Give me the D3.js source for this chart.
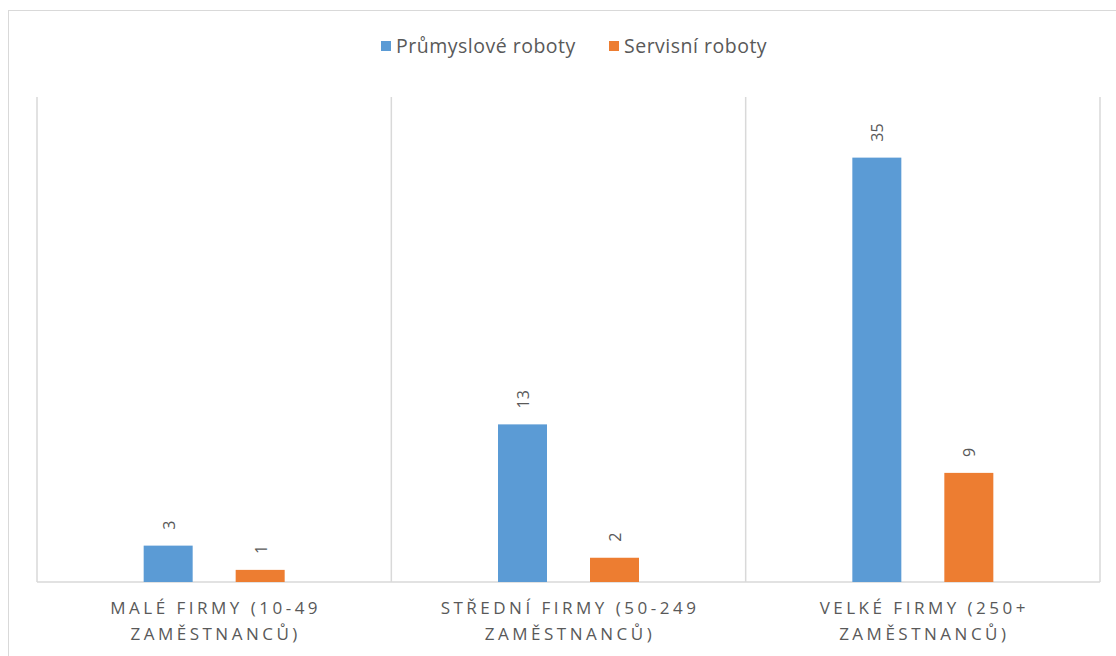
<!DOCTYPE html>
<html>
<head>
<meta charset="utf-8">
<script src="https://cdn.jsdelivr.net/npm/d3@7"></script>
<style>
  body { margin: 0; background: #fff; }
  text { font-family: "Open Sans", sans-serif; }
</style>
</head>
<body>
<svg id="chart"></svg>
<script>
// data
var categories = [["MALÉ FIRMY (10-49", "ZAMĚSTNANCŮ)"],
                  ["STŘEDNÍ FIRMY (50-249", "ZAMĚSTNANCŮ)"],
                  ["VELKÉ FIRMY (250+", "ZAMĚSTNANCŮ)"]];
var seriesNames = ["Průmyslové roboty", "Servisní roboty"];
var industrial = [3, 13, 35];
var service = [1, 2, 9];
var seriesColors = ["#5B9BD5", "#ED7D31"];

var W = 1116, H = 656;
var svg = d3.select("#chart").attr("width", W).attr("height", H);

// chart frame (only top/left visible)
svg.append("rect").attr("x", 8.5).attr("y", 10.5)
   .attr("width", W + 20).attr("height", H + 20)
   .attr("fill", "none").attr("stroke", "#D9D9D9");

var plot = {left: 37, right: 1100, top: 97, bottom: 582};

var x0 = d3.scaleBand().domain(d3.range(categories.length))
           .range([plot.left, plot.right]).paddingInner(0).paddingOuter(0);
var y = d3.scaleLinear().domain([0, 40]).range([plot.bottom, plot.top]);

var barW = 49, barOff = 46;

// category separators
var seps = d3.range(categories.length + 1).map(function(i){ return plot.left + i * x0.bandwidth(); });
svg.selectAll(".sep").data(seps).enter().append("line")
   .attr("class", "sep")
   .attr("x1", function(d){ return d; }).attr("x2", function(d){ return d; })
   .attr("y1", plot.top).attr("y2", plot.bottom)
   .attr("stroke", "#D9D9D9").attr("stroke-width", 1.5);

// baseline
svg.append("line").attr("x1", plot.left).attr("x2", plot.right)
   .attr("y1", plot.bottom).attr("y2", plot.bottom)
   .attr("stroke", "#D9D9D9").attr("stroke-width", 1.5);

var series = [industrial, service];
series.forEach(function(vals, s){
  var cx = function(i){ return x0(i) + x0.bandwidth() / 2 + (s === 0 ? -barOff : barOff); };
  svg.selectAll(".bar" + s).data(vals).enter().append("rect")
     .attr("class", "bar" + s)
     .attr("x", function(d, i){ return cx(i) - barW / 2; })
     .attr("y", function(d){ return y(d); })
     .attr("width", barW)
     .attr("height", function(d){ return y(0) - y(d); })
     .attr("fill", seriesColors[s]);
  svg.selectAll(".lab" + s).data(vals).enter().append("text")
     .attr("class", "lab" + s)
     .attr("transform", function(d, i){ return "translate(" + (cx(i) + 6.5) + "," + (y(d) - 16) + ") rotate(-90)"; })
     .attr("text-anchor", "start")
     .attr("font-size", 16)
     .attr("fill", "#595959")
     .text(function(d){ return d; });
});

// category labels
categories.forEach(function(lines, i){
  var t = svg.append("text")
     .attr("text-anchor", "middle")
     .attr("font-size", 17)
     .attr("letter-spacing", "3.5px")
     .attr("fill", "#595959");
  lines.forEach(function(l, j){
    t.append("tspan").attr("x", x0(i) + x0.bandwidth() / 2 + 1.5)
     .attr("y", 614 + j * 26).text(l);
  });
});

// legend
var legend = [{x: 381}, {x: 609}];
legend.forEach(function(p, i){
  svg.append("rect").attr("x", p.x).attr("y", 41).attr("width", 10).attr("height", 10)
     .attr("fill", seriesColors[i]);
  svg.append("text").attr("x", p.x + 15).attr("y", 53)
     .attr("font-size", 19.5).attr("letter-spacing", "0.5px")
     .attr("fill", "#595959").text(seriesNames[i]);
});
</script>
</body>
</html>
